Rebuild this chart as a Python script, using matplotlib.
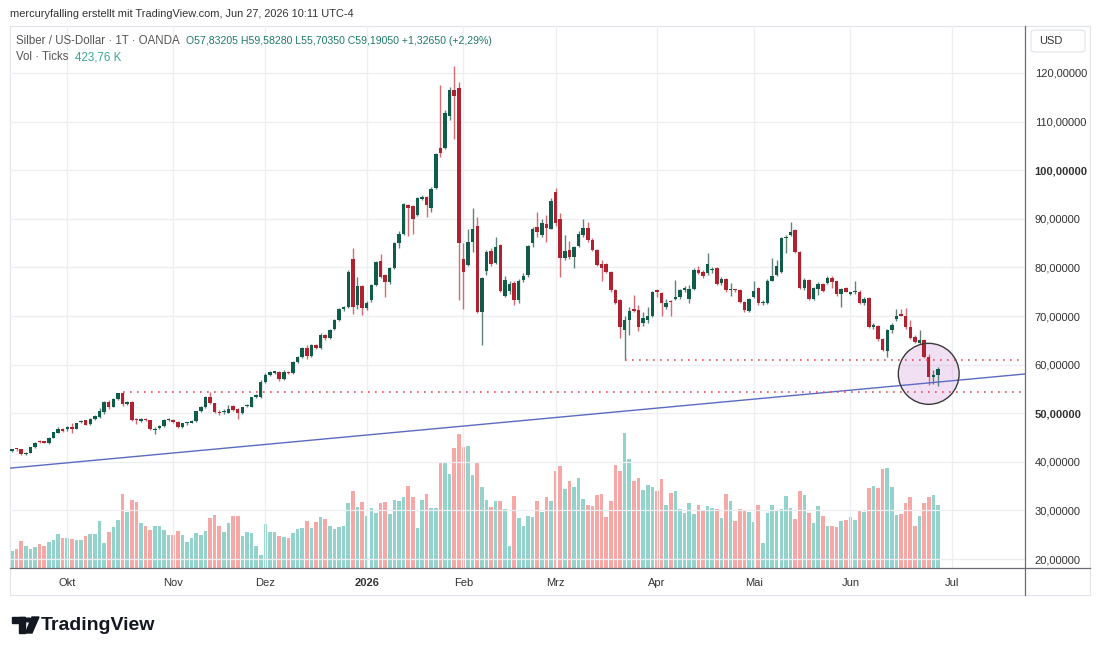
import numpy as np
import pandas as pd
import matplotlib
matplotlib.use('Agg')
import matplotlib.pyplot as plt
from matplotlib.patches import Ellipse, FancyBboxPatch, Rectangle, Polygon, Circle
from matplotlib.lines import Line2D

plt.rcParams['font.family'] = ['Liberation Sans', 'DejaVu Sans']

# ==========================================
# DATA  (XAG/USD daily, OANDA)
# ==========================================
opens = [
    42.2, 42.6, 42.6, 41.6, 41.9, 43.0, 44.1, 44.05, 43.8, 45.0,
    46.0, 46.8, 46.7, 47.2, 46.8, 48.1, 48.5, 47.8, 48.9, 49.2,
    50.2, 52.3, 51.3, 52.9, 54.1, 51.8, 52.4, 48.7, 48.3, 48.9,
    48.5, 46.6, 47.0, 47.4, 48.55, 48.6, 48.2, 47.1, 47.95, 48.0,
    48.3, 50.4, 51.2, 53.3, 52.0, 50.2, 50.3, 50.1, 51.5, 50.8,
    50.0, 51.5, 51.3, 53.4, 53.4, 56.5, 57.9, 58.35, 58.4, 57.0,
    58.4, 58.2, 60.6, 61.6, 63.5, 61.8, 64.0, 63.5, 66.1, 65.4,
    67.3, 69.1, 71.4, 71.8, 81.7, 72.3, 76.1, 71.6, 73.2, 76.4,
    81.3, 78.4, 76.9, 79.9, 85.1, 86.9, 92.8, 92.6, 90.8, 94.0,
    94.5, 92.3, 96.4, 104.5, 104.6, 111.1, 116.5, 116.9, 81.7, 80.5,
    85.3, 88.5, 70.8, 79.3, 83.4, 81.0, 84.6, 74.1, 75.2, 76.7,
    73.2, 77.4, 78.4, 85.1, 88.4, 86.7, 88.9, 88.0, 95.6, 89.9,
    82.0, 83.6, 82.2, 84.5, 86.7, 88.2, 85.6, 83.6, 80.7, 80.8,
    79.0, 75.3, 73.2, 67.1, 69.1, 71.4, 71.2, 68.5, 69.2, 70.0,
    75.2, 74.8, 71.9, 72.95, 73.6, 74.0, 75.3, 73.5, 75.5, 79.5,
    79.1, 78.8, 79.45, 79.8, 76.7, 77.6, 75.4, 75.35, 75.3, 72.9,
    71.1, 74.0, 75.7, 72.6, 72.6, 77.3, 78.4, 79.1, 86.1, 86.7,
    87.6, 83.2, 75.7, 77.4, 73.6, 75.5, 76.6, 76.7, 77.9, 77.1,
    74.5, 75.7, 74.6, 74.9, 75.0, 72.6, 73.8, 67.7, 67.9, 65.2,
    62.7, 67.1, 69.3, 70.2, 69.9, 67.8, 65.6, 64.5, 65.1, 61.5,
    57.5, 57.83,
]
highs = [
    42.7, 42.9, 42.7, 42.0, 43.1, 44.0, 44.4, 44.3, 45.1, 46.2,
    47.1, 47.0, 47.3, 47.9, 48.0, 48.7, 48.6, 49.0, 49.6, 51.1,
    52.6, 52.7, 53.1, 54.2, 54.3, 52.6, 52.6, 49.0, 49.1, 49.0,
    48.7, 47.1, 47.6, 48.8, 49.0, 48.8, 48.3, 48.0, 48.2, 48.5,
    50.5, 51.4, 53.5, 54.3, 52.2, 50.6, 50.9, 51.6, 51.7, 51.0,
    51.3, 51.9, 53.4, 53.9, 56.8, 58.2, 58.6, 58.7, 58.6, 58.8,
    58.6, 60.8, 61.8, 63.7, 64.1, 64.3, 64.2, 66.4, 66.3, 67.3,
    69.3, 71.6, 72.0, 79.5, 83.9, 78.0, 76.3, 73.0, 76.6, 81.4,
    82.7, 78.7, 80.1, 85.3, 87.4, 93.2, 93.1, 92.8, 94.4, 95.0,
    94.7, 96.5, 103.6, 117.5, 112.3, 117.1, 121.5, 118.2, 85.0, 88.0,
    92.2, 90.3, 78.0, 83.5, 84.0, 86.2, 84.8, 78.3, 77.2, 77.3,
    77.6, 78.8, 84.7, 88.3, 91.3, 90.0, 90.8, 94.3, 96.3, 91.1,
    86.7, 85.5, 84.5, 87.4, 89.9, 89.3, 86.0, 83.8, 81.6, 81.0,
    79.2, 75.6, 73.4, 69.9, 71.8, 74.3, 72.2, 70.9, 71.8, 75.1,
    75.6, 75.0, 73.5, 73.3, 77.5, 75.6, 76.2, 76.3, 79.8, 80.2,
    79.4, 82.9, 80.0, 80.1, 78.0, 77.9, 76.8, 75.5, 75.6, 73.1,
    73.8, 77.1, 75.9, 73.3, 77.6, 81.9, 81.5, 86.3, 86.6, 89.3,
    88.0, 83.4, 77.9, 77.6, 76.0, 76.9, 76.8, 78.2, 78.2, 77.3,
    75.7, 75.9, 75.0, 77.1, 75.3, 74.0, 74.0, 68.5, 68.1, 65.5,
    67.4, 68.6, 71.4, 71.4, 71.6, 69.2, 66.0, 67.1, 65.3, 62.1,
    58.8, 59.58,
]
lows = [
    42.0, 42.3, 41.4, 41.4, 41.8, 42.9, 43.8, 43.8, 43.7, 44.9,
    45.9, 46.2, 46.4, 45.9, 46.7, 47.9, 47.5, 47.6, 48.7, 49.0,
    49.9, 50.9, 51.2, 52.8, 51.5, 51.6, 48.4, 47.8, 48.1, 48.3,
    46.5, 45.7, 46.8, 47.2, 48.3, 48.0, 46.9, 47.0, 47.6, 47.9,
    48.2, 50.2, 51.1, 51.8, 50.0, 49.7, 49.9, 50.0, 50.5, 48.8,
    49.9, 51.3, 51.2, 53.2, 53.2, 56.3, 57.6, 58.1, 56.7, 56.9,
    58.0, 58.0, 60.3, 61.4, 61.2, 61.6, 63.3, 63.3, 65.0, 65.2,
    67.1, 68.9, 71.0, 71.6, 70.5, 71.5, 70.2, 71.3, 72.9, 76.2,
    77.8, 74.0, 76.5, 79.7, 84.0, 86.7, 86.5, 86.9, 90.5, 93.8,
    90.4, 91.5, 96.2, 102.8, 104.3, 110.3, 106.5, 73.3, 71.4, 80.2,
    83.2, 70.6, 64.0, 78.5, 80.2, 80.7, 74.9, 73.9, 74.6, 72.3,
    72.6, 77.0, 78.1, 84.3, 86.2, 86.3, 85.3, 87.8, 88.5, 78.1,
    81.5, 81.8, 79.8, 84.2, 86.3, 85.2, 83.3, 80.2, 77.1, 78.8,
    75.0, 72.4, 65.4, 60.9, 66.1, 70.8, 66.9, 67.9, 68.6, 69.7,
    73.9, 69.9, 71.4, 69.9, 73.3, 73.4, 75.0, 72.7, 75.3, 78.6,
    77.9, 78.5, 78.9, 76.3, 76.3, 75.0, 74.2, 75.0, 72.7, 70.9,
    70.9, 73.8, 72.3, 72.3, 72.4, 77.1, 78.2, 78.9, 83.0, 86.5,
    82.9, 75.5, 75.3, 73.2, 73.3, 74.4, 74.9, 76.5, 75.8, 74.1,
    71.9, 74.9, 74.4, 74.6, 72.4, 72.3, 67.5, 67.3, 64.9, 62.8,
    61.5, 66.6, 69.0, 69.9, 67.3, 65.3, 64.5, 64.3, 61.4, 55.9,
    56.1, 55.70,
]
closes = [
    42.6, 42.55, 41.6, 41.9, 43.0, 43.9, 44.05, 43.95, 45.0, 46.1,
    46.8, 46.4, 47.2, 46.8, 47.9, 48.3, 47.6, 48.9, 49.4, 50.4,
    52.3, 51.2, 52.9, 54.1, 51.8, 52.4, 48.6, 48.6, 48.9, 48.5,
    46.7, 46.7, 47.4, 48.7, 48.65, 48.2, 47.1, 47.9, 48.05, 48.3,
    50.4, 51.2, 53.3, 52.0, 50.2, 50.1, 50.4, 50.8, 50.7, 50.0,
    51.2, 51.65, 53.3, 53.6, 56.5, 57.9, 58.4, 58.45, 57.0, 58.4,
    58.3, 60.6, 61.6, 63.5, 61.8, 64.0, 63.5, 66.1, 65.4, 67.1,
    69.1, 71.4, 71.8, 79.1, 71.9, 76.2, 71.6, 72.7, 76.4, 81.2,
    78.1, 76.9, 79.8, 85.1, 86.9, 93.0, 92.3, 89.9, 94.2, 94.5,
    92.8, 96.1, 103.3, 103.6, 111.7, 116.6, 115.3, 85.1, 79.1, 85.3,
    88.0, 70.8, 77.9, 83.2, 80.7, 84.1, 75.2, 77.4, 76.6, 73.3,
    77.1, 78.3, 84.5, 88.0, 87.2, 89.2, 88.2, 93.7, 89.2, 81.9,
    83.4, 82.1, 84.3, 86.9, 88.2, 85.6, 83.6, 80.5, 79.8, 79.1,
    75.3, 72.6, 67.8, 69.1, 71.1, 71.1, 67.8, 69.5, 70.0, 75.0,
    75.0, 72.7, 72.7, 72.85, 74.0, 75.3, 75.8, 75.6, 79.5, 78.8,
    78.2, 80.7, 79.55, 76.6, 77.6, 75.3, 75.6, 75.25, 72.9, 71.2,
    73.6, 75.2, 72.6, 72.9, 77.3, 78.2, 80.3, 86.0, 86.3, 87.3,
    83.2, 75.7, 77.4, 73.4, 75.7, 76.6, 75.2, 77.9, 76.9, 74.5,
    75.5, 75.0, 74.75, 75.1, 72.6, 73.6, 67.7, 68.2, 65.2, 63.1,
    67.2, 68.1, 69.9, 70.1, 67.7, 65.5, 64.7, 65.0, 61.5, 57.4,
    57.9, 59.19,
]
# Volume (Ticks, in K)
volumes = [
    112, 130, 182, 148, 128, 144, 161, 148, 173, 188,
    229, 202, 202, 197, 188, 188, 215, 229, 229, 316,
    168, 240, 276, 325, 496, 377, 455, 442, 305, 283,
    256, 283, 283, 256, 220, 224, 247, 220, 175, 202,
    233, 224, 249, 336, 357, 283, 242, 301, 350, 350,
    215, 242, 238, 148, 87, 296, 240, 240, 215, 206,
    202, 238, 265, 269, 316, 269, 310, 341, 327, 283,
    260, 276, 283, 435, 516, 413, 444, 348, 401, 372,
    435, 444, 363, 460, 451, 476, 552, 476, 269, 458,
    496, 404, 404, 713, 709, 633, 805, 902, 816, 821,
    628, 713, 547, 458, 413, 453, 449, 399, 148, 484,
    336, 285, 350, 343, 453, 377, 480, 453, 653, 686,
    532, 583, 543, 603, 464, 424, 417, 491, 500, 343,
    451, 691, 655, 906, 736, 588, 603, 525, 558, 547,
    520, 597, 424, 502, 520, 397, 372, 440, 363, 424,
    384, 417, 406, 395, 336, 500, 451, 316, 395, 384,
    377, 310, 424, 166, 368, 424, 386, 397, 484, 401,
    330, 520, 489, 372, 301, 417, 350, 285, 285, 276,
    316, 323, 345, 323, 390, 377, 541, 552, 538, 666,
    671, 547, 357, 363, 435, 476, 285, 352, 435, 476,
    489, 423.76,
]

# Trading calendar (OANDA closed on these days)
holidays = ['2025-12-25', '2026-01-01', '2026-04-03']
month_labels = ['Okt', 'Nov', 'Dez', '2026', 'Feb', 'Mrz', 'Apr', 'Mai', 'Jun', 'Jul']
month_starts = ['2025-10', '2025-11', '2025-12', '2026-01', '2026-02',
                '2026-03', '2026-04', '2026-05', '2026-06', '2026-07']

# Drawings
trend_x = [-0.43, 219.9]           # bar index
trend_y = [38.70, 58.07]           # price
support_levels = [54.29, 60.93]
support_start = [24, 133]
circle_center = (199.0, 58.1)
circle_size = (13.2, 12.55)        # width in bars, height in price

price_ticks = [20, 30, 40, 50, 60, 70, 80, 90, 100, 110, 120]

# ==========================================
# STYLE
# ==========================================
UP = '#0f5c4a'
DOWN = '#b0222f'
UP_WICK = '#5f8379'
DOWN_WICK = '#d66a73'
VOL_UP = '#93d3cc'
VOL_DOWN = '#f6a8a6'
GRID = '#eceef2'
TEXT = '#333333'

W, H = 1100, 653
fig = plt.figure(figsize=(11, 6.53), dpi=100)
fig.patch.set_facecolor('white')

def fx(px):
    return px / W

def fy(py):
    return 1 - py / H

# chart pane: x 10..1025, y 26..568 px
ax = fig.add_axes([fx(10), fy(568), fx(1025) - fx(10), fy(26) - fy(568)])
axv = ax.twinx()
ax.set_zorder(axv.get_zorder() + 1)
ax.patch.set_visible(False)

days = pd.bdate_range('2025-09-15', '2026-07-31')
days = days[~days.isin(pd.to_datetime(holidays))]
n = len(closes)
x = np.arange(n)
o = np.array(opens)
h = np.array(highs)
l = np.array(lows)
c = np.array(closes)
up = c >= o

# volume (own hidden scale)
axv.bar(x, volumes, width=0.78, color=np.where(up, VOL_UP, VOL_DOWN), zorder=1)
axv.set_ylim(0, 3648)
axv.axis('off')

# candles
ax.vlines(x, l, h, colors=np.where(up, UP_WICK, DOWN_WICK), linewidth=1.0, zorder=3)
body_bottom = np.minimum(o, c)
body_height = np.maximum(np.abs(c - o), 0.25)
ax.bar(x, body_height, bottom=body_bottom, width=0.76,
       color=np.where(up, UP, DOWN), linewidth=0, zorder=4)

ax.set_xlim(-0.43, 219.9)
ax.set_ylim(18.15, 129.67)

# gridlines
tick_pos = [int(np.argmax(days >= pd.Timestamp(m + '-01'))) for m in month_starts]
for p in price_ticks:
    ax.axhline(p, color=GRID, linewidth=0.9, zorder=0)
for t in tick_pos:
    ax.axvline(t, color=GRID, linewidth=0.9, zorder=0)

# trend line + support lines
ax.plot(trend_x, trend_y, color='#5c6bc0', linewidth=1.0, zorder=5)
for lvl, s in zip(support_levels, support_start):
    ax.plot([s, 219.5], [lvl, lvl], color='#ee4d5c', linewidth=1.2,
            linestyle=(0, (1, 3.2)), zorder=5)

circ = Ellipse(circle_center, circle_size[0], circle_size[1],
               facecolor='#ce93d8', alpha=0.28, edgecolor='none', zorder=2)
ax.add_patch(circ)
ax.add_patch(Ellipse(circle_center, circle_size[0], circle_size[1],
                     facecolor='none', edgecolor='#3a3a3a', linewidth=1.0, zorder=6))

# axes / ticks
for s in ax.spines.values():
    s.set_visible(False)
ax.set_xticks(tick_pos)
ax.set_xticklabels(month_labels)
ax.tick_params(axis='x', length=0, pad=7, labelsize=8, labelcolor=TEXT)
for lab in ax.get_xticklabels():
    if lab.get_text() == '2026':
        lab.set_fontweight('bold')
ax.yaxis.tick_right()
ax.set_yticks(price_ticks)
ax.set_yticklabels([f'{p:.5f}'.replace('.', ',') for p in price_ticks])
ax.tick_params(axis='y', length=0, pad=7, labelsize=8, labelcolor=TEXT)
for lab in ax.get_yticklabels():
    if lab.get_text() in ('100,00000', '50,00000'):
        lab.set_fontweight('bold')

# frame lines
fig.add_artist(Rectangle((fx(10), fy(595)), fx(1090) - fx(10), fy(26) - fy(595),
                         transform=fig.transFigure, fill=False,
                         edgecolor='#e0e3eb', linewidth=0.8))
fig.add_artist(Line2D([fx(10), fx(1090)], [fy(568), fy(568)], color='#6a6d78', linewidth=0.9))
fig.add_artist(Line2D([fx(1025), fx(1025)], [fy(26), fy(595)], color='#6a6d78', linewidth=0.9))

# USD box
fig.add_artist(FancyBboxPatch((fx(1031), fy(52)), fx(1085) - fx(1031), fy(30) - fy(52),
                              boxstyle='round,pad=0,rounding_size=0.004',
                              transform=fig.transFigure, facecolor='white',
                              edgecolor='#e0e3eb', linewidth=0.8))
fig.text(fx(1039), fy(41), 'USD', fontsize=8, color=TEXT, va='center')

# header texts
fig.text(fx(10), fy(14), 'mercuryfalling erstellt mit TradingView.com, Jun 27, 2026 10:11 UTC-4',
         fontsize=7.9, color=TEXT, va='center')
t1 = fig.text(fx(16), fy(41), 'Silber / US-Dollar · 1T · OANDA  ',
              fontsize=8.3, color='#555555', va='center')
fig.canvas.draw()
bb = t1.get_window_extent()
fig.text(bb.x1 / W, fy(41),
         'O57,83205 H59,58280 L55,70350 C59,19050 +1,32650 (+2,29%)',
         fontsize=7.6, color='#1e7a68', va='center')
t2 = fig.text(fx(16), fy(57), 'Vol · Ticks  ', fontsize=8.3, color='#555555', va='center')
fig.canvas.draw()
bb2 = t2.get_window_extent()
fig.text(bb2.x1 / W, fy(57), '423,76 K', fontsize=8.3, color='#3aa597', va='center')

# TradingView logo
logo_col = '#131722'
fig.add_artist(Rectangle((fx(12), fy(623)), fx(25) - fx(12), fy(617) - fy(623),
                         transform=fig.transFigure, color=logo_col))
fig.add_artist(Rectangle((fx(19), fy(633)), fx(25) - fx(19), fy(617) - fy(633),
                         transform=fig.transFigure, color=logo_col))
fig.add_artist(Circle((fx(28.5), fy(620)), 3.2 / W, transform=fig.transFigure, color=logo_col))
fig.add_artist(Polygon([(fx(32), fy(617)), (fx(39), fy(617)), (fx(32), fy(633)), (fx(25.5), fy(633))],
                       closed=True, transform=fig.transFigure, color=logo_col))
fig.text(fx(41), fy(625), 'TradingView', fontsize=14, fontweight='bold',
         color=logo_col, va='center')

fig.savefig('out.png', dpi=100)
